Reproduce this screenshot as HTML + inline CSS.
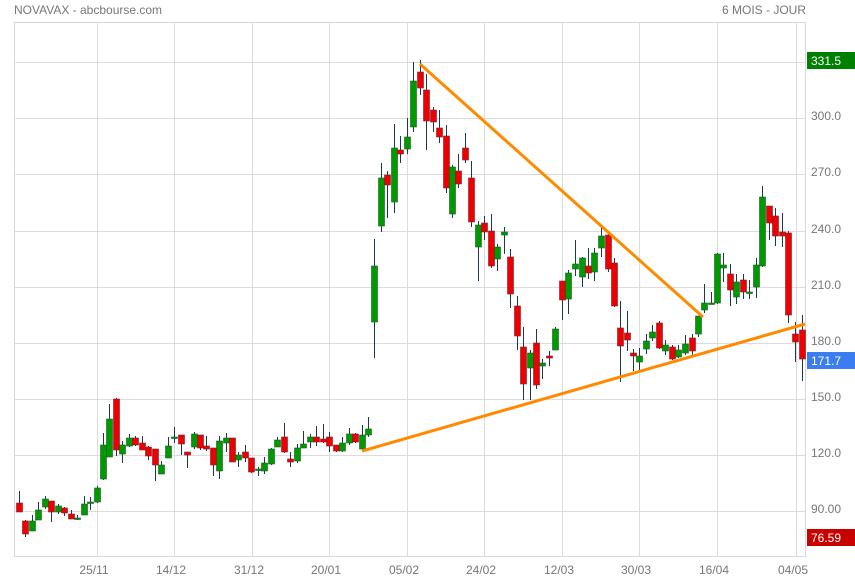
<!DOCTYPE html>
<html><head><meta charset="utf-8"><style>
html,body{margin:0;padding:0;background:#fff}
svg{display:block;font-family:"Liberation Sans",Arial,sans-serif}
</style></head><body>
<svg id="s" width="855" height="580" xmlns="http://www.w3.org/2000/svg">
<rect width="855" height="580" fill="#fff"/>
<g id="grid" stroke="#dcdcdc" stroke-width="1"></g>
<rect x="14.5" y="22.5" width="791" height="534" fill="none" stroke="#d8d8d8"/>
<g id="c"></g>
<line x1="420" y1="64" x2="703" y2="317" stroke="#ff8a00" stroke-width="3"/>
<line x1="362" y1="451" x2="805" y2="324" stroke="#ff8a00" stroke-width="3"/>
<text x="14" y="14" font-size="12" fill="#777">NOVAVAX - abcbourse.com</text>
<text x="806" y="14" font-size="12" fill="#777" text-anchor="end">6 MOIS - JOUR</text>
<g id="lab" font-size="12" fill="#777"></g>
<rect x="807" y="52" width="48" height="17" fill="#008000"/><text x="811" y="65" font-size="12" fill="#fff">331.5</text>
<rect x="807" y="352" width="48" height="17" fill="#3a7df0"/><text x="811" y="365" font-size="12" fill="#fff">171.7</text>
<rect x="807" y="529" width="48" height="17" fill="#c80000"/><text x="811" y="542" font-size="12" fill="#fff">76.59</text>
</svg>
<script>
var NS="http://www.w3.org/2000/svg";
function el(p,t,a,txt){var e=document.createElementNS(NS,t);for(var k in a)e.setAttribute(k,a[k]);if(txt)e.textContent=txt;document.getElementById(p).appendChild(e);}
var vx=[97,174,252,329,407,484,562,639,717,796],vl=["25/11","14/12","31/12","20/01","05/02","24/02","12/03","30/03","16/04","04/05"];
vx.forEach(function(x,i){el("grid","line",{x1:x+.5,y1:22,x2:x+.5,y2:556});el("lab","text",{x:x-3,y:574,"text-anchor":"middle"},vl[i]);});
var hy=[[62,""],[118,"300.0"],[174,"270.0"],[231,"240.0"],[287,"210.0"],[343,"180.0"],[399,"150.0"],[455,"120.0"],[511,"90.00"]];
hy.forEach(function(h){el("grid","line",{x1:14,y1:h[0]+.5,x2:806,y2:h[0]+.5});if(h[1])el("lab","text",{x:811,y:h[0]+2},h[1]);});
var C=[
[19,'r',503,512,491,512],[25,'r',521,534,520,537],[32,'g',521,531,515,531],[38,'g',510,520,502,520],[45,'g',499,507,496,509],[51,'r',501,512,501,522],[58,'g',506,512,504,514],[64,'r',508,513,507,516],[71,'r',514,519,510,519],[77,'g',518,519,515,520],[84,'g',504,515,496,515],[90,'g',502,503,497,510],[97,'g',488,502,486,503],
[103,'g',445,479,433,480],[109,'g',419,457,404,457],[116,'r',399,450,398,456],[122,'g',445,454,441,463],[129,'g',438,446,434,447],[135,'r',438,445,436,446],[142,'r',443,450,436,450],[148,'r',447,456,446,460],[155,'r',449,465,449,481],[161,'g',465,474,461,474],[168,'g',446,458,437,458],[174,'g',437,438,427,443],[181,'r',435,444,435,455],[187,'r',452,455,452,468],[194,'g',434,447,432,449],[200,'r',435,448,435,450],[206,'r',446,449,436,451],[213,'r',448,465,448,476],[219,'g',441,471,436,479],[226,'g',438,443,433,452],[232,'r',438,462,438,462],[238,'g',455,460,452,467],[245,'r',452,458,445,462],[251,'r',458,472,458,473],[258,'g',469,470,467,476],[264,'g',463,471,457,474],[271,'g',449,464,448,465],[277,'g',440,447,437,447],[284,'r',437,452,423,453],[290,'r',459,462,452,467],[297,'g',448,461,444,463],[303,'g',444,448,431,448],[310,'g',437,442,434,448],[316,'r',437,442,426,446],[323,'r',439,442,424,443],[329,'r',437,446,432,452],[336,'r',445,451,445,452],[342,'g',443,451,437,452],[349,'g',434,443,428,445],[355,'r',434,442,433,443],[362,'g',435,449,425,450],[368,'g',429,435,417,437],
[374,'g',266,322,239,358],[381,'g',178,226,163,232],[387,'r',175,185,171,218],[394,'g',148,202,124,213],[400,'r',150,154,136,163],[407,'g',137,149,118,154],[413,'g',81,127,62,132],[420,'r',72,88,60,95],[426,'r',90,121,74,150],[433,'r',110,122,107,132],[439,'r',128,137,110,143],[446,'r',136,188,125,193],[452,'g',167,214,165,218],[458,'r',171,184,154,188],[465,'r',148,160,133,163],[471,'r',178,222,161,227],[478,'g',225,247,221,281],[484,'r',223,232,216,240],[491,'r',231,266,214,268],[497,'g',247,259,244,271],[504,'g',232,235,227,254],[510,'r',257,294,249,308],[517,'r',306,336,296,350],[523,'r',347,384,327,400],[530,'g',353,368,350,400],[536,'r',343,385,329,389],[542,'g',363,366,359,379],[549,'r',356,358,351,366],[555,'g',329,350,327,350],[562,'r',281,300,281,320],[568,'g',273,299,270,314],
[575,'g',264,269,240,276],[582,'g',258,277,257,287],[588,'r',266,273,248,279],[594,'g',253,272,248,281],[601,'g',236,248,228,257],[608,'r',235,269,233,272],[614,'r',263,306,258,307],[620,'r',328,346,301,382],[627,'r',333,340,311,351],[633,'r',353,356,349,371],[639,'g',356,362,348,370],[646,'g',341,349,334,354],[652,'g',332,338,325,341],[659,'r',323,348,321,349],[665,'g',345,351,340,355],[672,'r',347,359,345,360],[678,'g',350,357,345,358],[685,'g',344,353,335,355],[692,'r',338,351,334,355],[698,'g',316,334,316,337],[704,'g',303,310,284,313],[711,'g',303,304,292,304],[717,'g',254,303,253,304],[723,'g',265,268,253,282],[730,'r',274,290,264,306],[736,'g',282,297,274,304],[743,'r',280,292,274,299],[749,'g',292,293,280,299],[756,'g',265,287,258,298],[762,'g',197,266,186,267],[769,'r',206,223,206,240],[775,'r',216,236,208,246],[782,'r',232,236,213,247],[788,'r',233,315,231,323],[795,'r',334,342,322,362],[802,'r',330,359,315,381]];
C.forEach(function(c){var x=c[0];
el("c","line",{x1:x+.5,y1:c[4],x2:x+.5,y2:c[5],stroke:"#1a3a4a","stroke-width":1});
var h=Math.max(c[3]-c[2],1.5);
el("c","rect",{x:x-2.5,y:c[2],width:6,height:h,fill:c[1]=='g'?"#009a00":"#ee0000",stroke:c[1]=='g'?"#1a5a2a":"#7a2030","stroke-width":.6});});
</script>
</body></html>
